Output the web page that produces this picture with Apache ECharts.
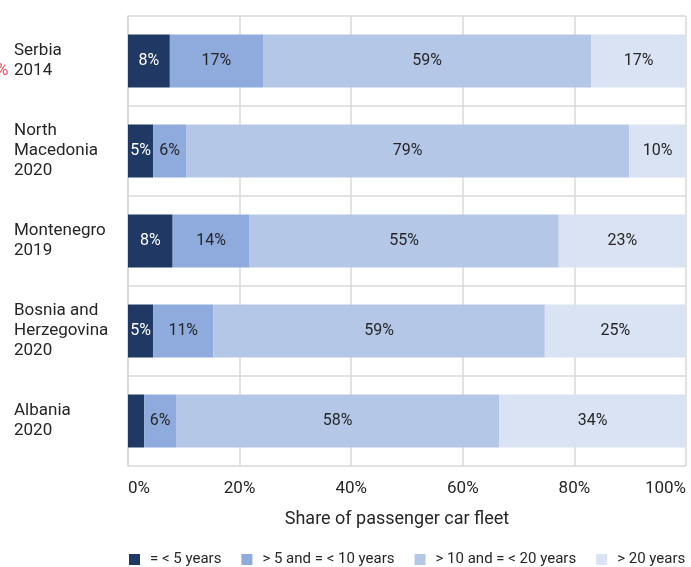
<!DOCTYPE html>
<html>
<head>
<meta charset="utf-8">
<script src="https://cdn.jsdelivr.net/npm/echarts@6/dist/echarts.min.js"></script>
<style>html,body{margin:0;padding:0;background:#fff}#c{width:691px;height:567px}</style>
</head>
<body>
<div id="c"></div>
<script>
const categories = ["Serbia\n2014", "North\nMacedonia\n2020", "Montenegro\n2019", "Bosnia and\nHerzegovina\n2020", "Albania\n2020"];
const seriesNames = ["= < 5 years", "> 5 and = < 10 years", "> 10 and = < 20 years", "> 20 years"];
const upTo5 = [7.5, 4.5, 8.0, 4.5, 2.9];
const from5to10 = [16.7, 5.9, 13.8, 10.8, 5.7];
const from10to20 = [58.8, 79.4, 55.4, 59.4, 57.9];
const over20 = [17.0, 10.2, 22.8, 25.3, 33.5];
const xTicks = ["0%", "20%", "40%", "60%", "80%", "100%"];

const colors = ["#1f3864", "#8faadc", "#b4c7e7", "#dae3f3"];
const labelColors = ["#ffffff", "#262626", "#262626", "#262626"];
const FONT = "Roboto";
const values = [upTo5, from5to10, from10to20, over20];

const chart = echarts.init(document.getElementById('c'));
chart.setOption({
  animation: false,
  textStyle: { fontFamily: FONT },
  grid: { left: 128, right: 5, top: 16, bottom: 101 },
  xAxis: {
    type: 'value', min: 0, max: 100, interval: 20,
    name: 'Share of passenger car fleet', nameLocation: 'middle', nameGap: 44,
    nameTextStyle: { fontSize: 18, color: '#262626', fontFamily: FONT, padding: [0, 20, 0, 0] },
    axisLine: { show: false }, axisTick: { show: false },
    axisLabel: {
      fontSize: 17, color: '#262626', margin: 14, fontFamily: FONT,
      formatter: v => xTicks[Math.round(v / 20)],
      alignMinLabel: 'left', alignMaxLabel: 'right'
    },
    splitLine: { show: true, lineStyle: { color: '#d9d9d9', width: 1.5 } }
  },
  yAxis: {
    type: 'category', data: categories, inverse: true,
    axisLine: { show: true, lineStyle: { color: '#d9d9d9', width: 1.5 } },
    axisTick: { show: false },
    axisLabel: {
      align: 'left', margin: 114, fontSize: 17, lineHeight: 20, color: '#262626', fontFamily: FONT
    },
    splitLine: { show: true, lineStyle: { color: '#d9d9d9', width: 1.5 } }
  },
  legend: {
    top: 547, left: 124, itemWidth: 11, itemHeight: 11, itemGap: 20,
    icon: 'rect',
    textStyle: { fontSize: 15, color: '#262626', fontFamily: FONT, padding: [0, 0, 0, 5] },
    data: seriesNames
  },
  series: seriesNames.map((n, i) => ({
    name: n, type: 'bar', stack: 'total', barWidth: 53,
    data: values[i],
    itemStyle: { color: colors[i] },
    label: {
      show: true, position: 'inside', fontSize: 16, color: labelColors[i], fontFamily: FONT,
      formatter: p => p.value < 4 ? '' : Math.round(p.value) + '%'
    }
  })),
  graphic: [{
    type: 'text', left: -4, top: 62,
    style: { text: '%', fill: '#e8505b', fontSize: 17, fontFamily: FONT }
  }]
});
</script>
</body>
</html>
